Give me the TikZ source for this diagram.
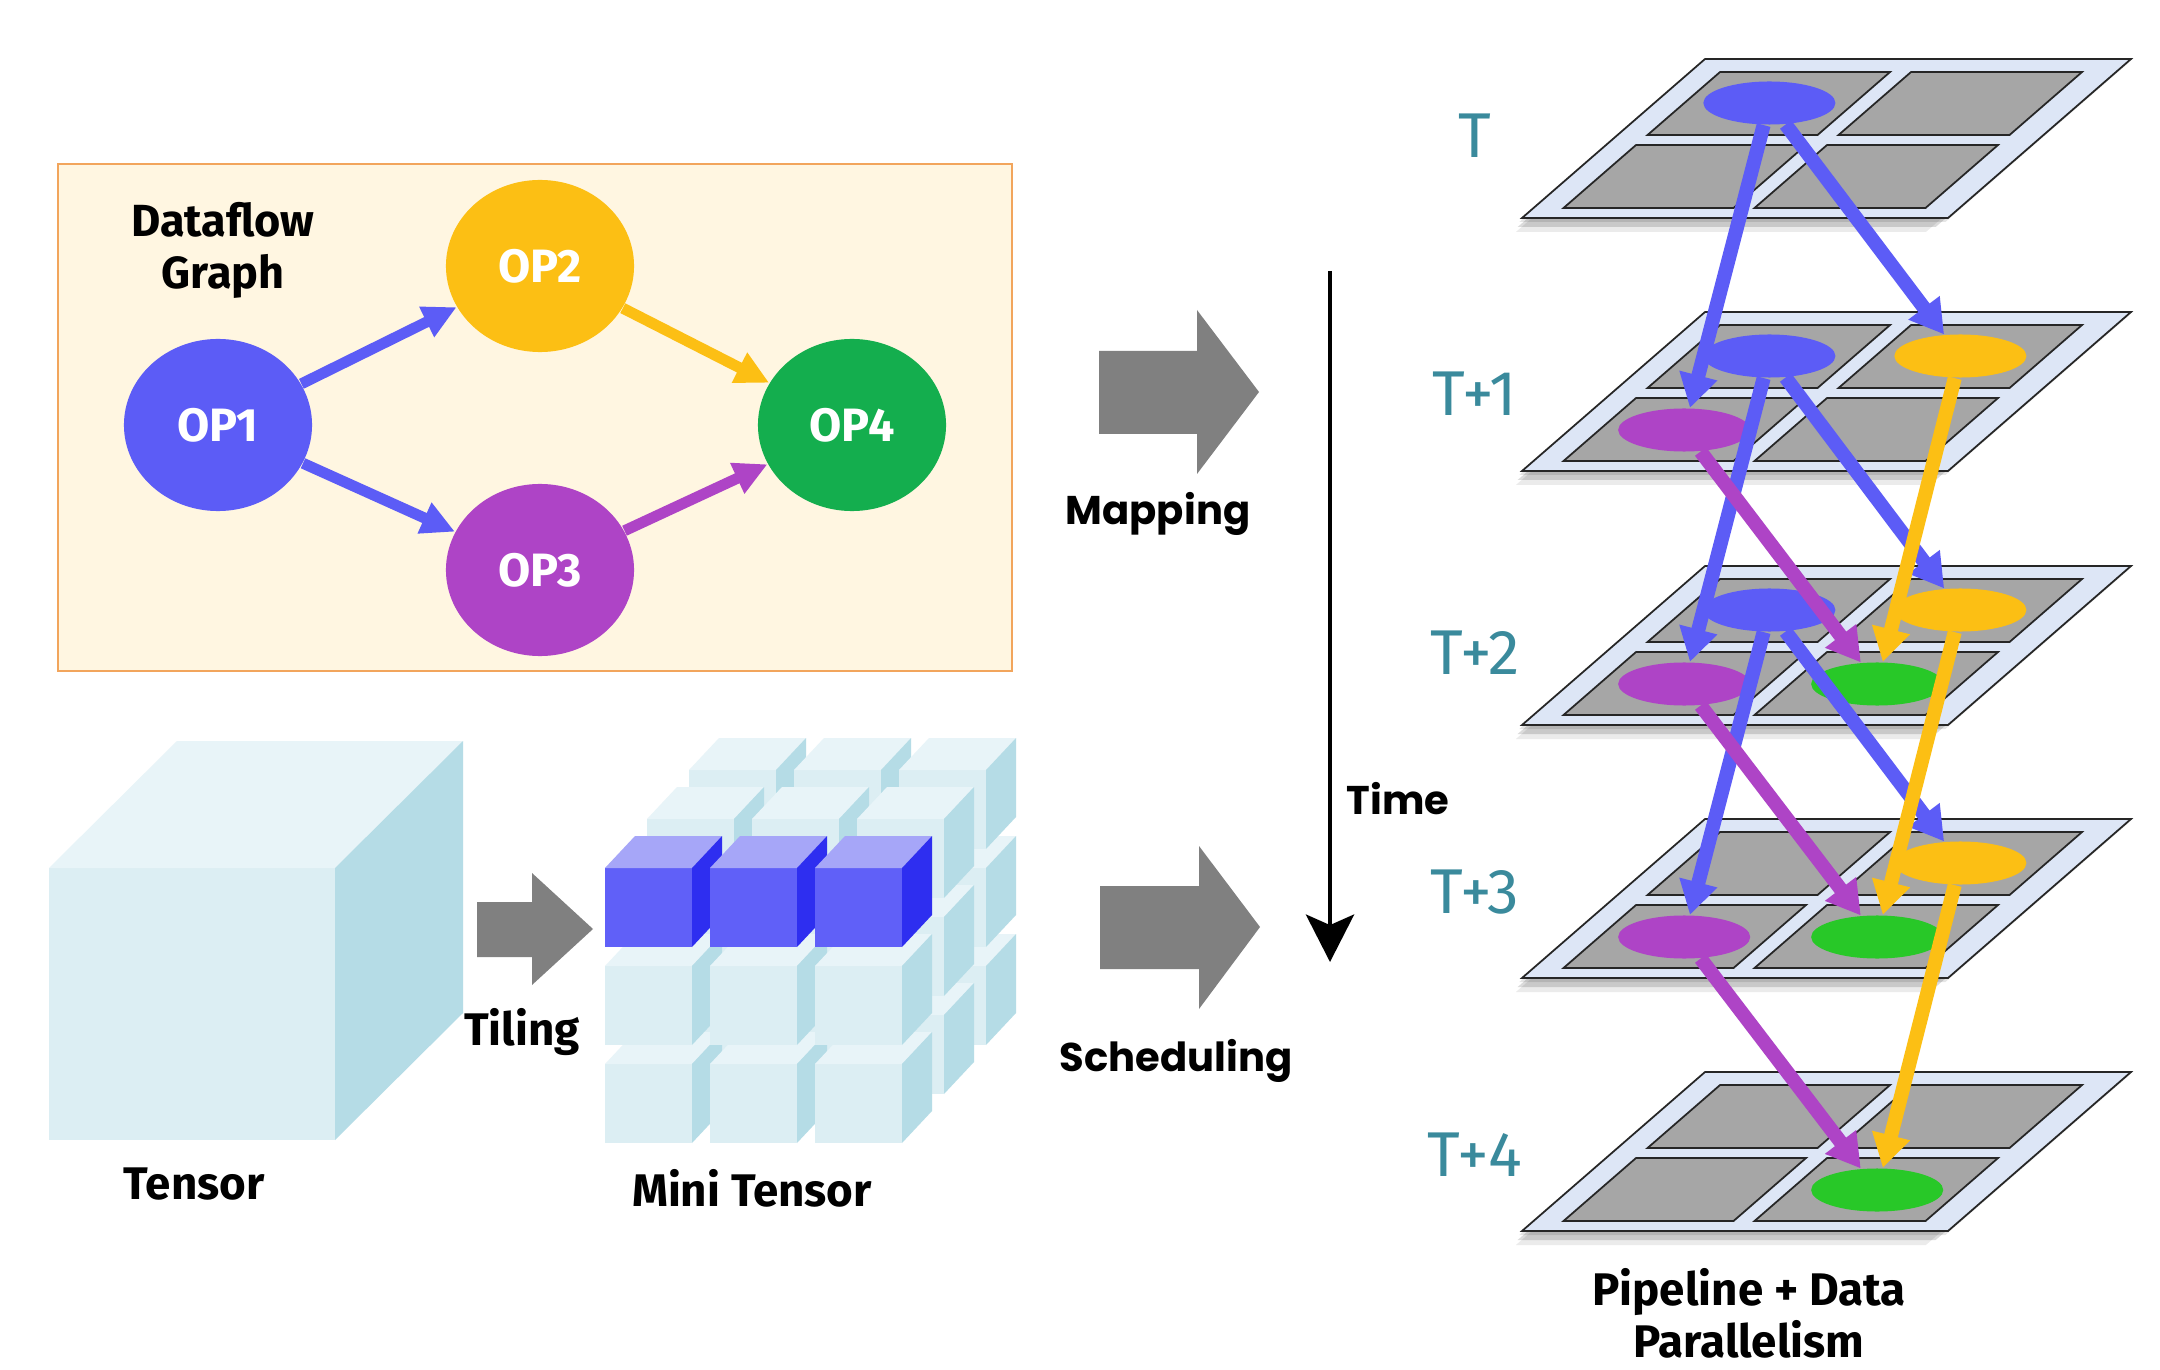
\documentclass[tikz,border=0pt]{standalone}
\usepackage{fontspec}
\setmainfont{Fira Sans}
\newfontfamily\widefont{Poppins}
\usetikzlibrary{shapes.geometric,arrows.meta}

\definecolor{opblue}{HTML}{5C5CF6}
\definecolor{opyellow}{HTML}{FCBF14}
\definecolor{oppurple}{HTML}{AE44C6}
\definecolor{opgreen}{HTML}{14AE4E}
\definecolor{cellgreen}{HTML}{28C828}
\definecolor{planefill}{HTML}{DDE6F6}
\definecolor{tilegray}{HTML}{A6A6A6}
\definecolor{boxfill}{HTML}{FFF6E1}
\definecolor{boxline}{HTML}{F2A55C}
\definecolor{arrowgray}{HTML}{808080}
\definecolor{tealtext}{HTML}{3A8A9C}
\definecolor{icefront}{HTML}{DCEEF3}
\definecolor{icetop}{HTML}{E8F4F8}
\definecolor{iceside}{HTML}{B5DCE6}
\definecolor{cubefront}{HTML}{6060F8}
\definecolor{cubetop}{HTML}{A6A6F8}
\definecolor{cubeside}{HTML}{2E2EF0}

\tikzset{
  opnode/.style={ellipse, minimum width=1.88cm, minimum height=1.72cm, inner sep=0pt,
    text=white, font=\fontsize{13.3}{15}\selectfont\bfseries},
  cell/.style={ellipse, minimum width=1.32cm, minimum height=0.43cm, inner sep=0pt},
  flow/.style={draw, line width=3.1pt, -{Triangle[width=9pt,length=9.5pt]}},
  hop/.style={draw, line width=4pt, -{Triangle[width=10.5pt,length=9.5pt]}},
  caption/.style={font=\fontsize{13}{14.8}\selectfont\bfseries, align=center},
  widecaption/.style={font=\widefont\fontsize{11.4}{14}\selectfont\bfseries},
  tlabel/.style={text=tealtext, font=\fontsize{18}{20}\selectfont},
  bigarrow/.style={fill=arrowgray},
}

% one small cube: front-top-left corner, then front, top and side colours
\newcommand{\minicube}[5]{%
  \fill[#3] (#1,#2) rectangle ++(87,79);
  \fill[#4] (#1,#2) -- ++(30,-32) -- ++(87,0) -- ++(-30,32) -- cycle;
  \fill[#5] ({#1+87},#2) -- ++(30,-32) -- ++(0,79) -- ++(-30,32) -- cycle;
}

% one time step plane: index, y of its lower edge
\newcommand{\layer}[2]{%
  \begin{scope}[shift={(1522,#2)}, xslant=1.151]
    \fill[black, opacity=.10] (2,4) rectangle (428,-155);
    \fill[black, opacity=.14] (6,9) rectangle (424,-150);
    \fill[black, opacity=.08] (10,14) rectangle (420,-140);
    \filldraw[fill=planefill, draw=black!85, line width=0.5pt] (0,0) rectangle (426,-159);
    \foreach \a/\b in {30/200,221/392}
      \foreach \c/\d in {-10/-73,-83/-146}
        \filldraw[fill=tilegray, draw=black!85, line width=0.5pt] (\a,\c) rectangle (\b,\d);
    \coordinate (L#1-tl) at (115,-115);
    \coordinate (L#1-tr) at (306,-115);
    \coordinate (L#1-bl) at (115,-41);
    \coordinate (L#1-br) at (308,-41);
  \end{scope}}

\begin{document}
\begin{tikzpicture}[x=0.01cm, y=-0.01cm]

  \fill[white] (0,0) rectangle (2160,1370);
  \useasboundingbox (0,0) rectangle (2160,1370);

  % dataflow graph
  \filldraw[fill=boxfill, draw=boxline, line width=0.7pt] (58,164) rectangle (1012,671);
  \node[caption, font=\fontsize{12.8}{14.8}\selectfont\bfseries] (dfg) at (223,250) {Dataflow\\Graph};

  \begin{scope}[every node/.style={opnode}]
    \node[fill=opblue]   (op1) at (218,425) {OP1};
    \node[fill=opyellow] (op2) at (540,266) {OP2};
    \node[fill=oppurple] (op3) at (540,570) {OP3};
    \node[fill=opgreen]  (op4) at (852,425) {OP4};
  \end{scope}

  \begin{scope}[every edge/.style={flow}]
    \path (op1) edge[opblue] (op2);
    \path (op1) edge[opblue] (op3);
    \path (op2) edge[opyellow] (op4);
    \path (op3) edge[oppurple] (op4);
  \end{scope}

  % tensor and tiling
  \fill[icefront] (49,868) rectangle (335,1140);
  \fill[icetop] (49,868) -- (177,741) -- (463,741) -- (335,868) -- cycle;
  \fill[iceside] (335,868) -- (463,741) -- (463,1013) -- (335,1140) -- cycle;
  \node[caption] (tensor) at (194,1184) {Tensor};

  \fill[bigarrow] (477,902) -- (532,902) -- (532,873) -- (593,929) -- (532,985) -- (532,957) -- (477,957) -- cycle;
  \node[caption] (tiling) at (522,1032) {Tiling};

  \foreach \l in {2,1,0}
    \foreach \r in {2,1,0}
      \foreach \c in {0,1,2} {
        \pgfmathsetmacro\cx{605+105*\c+42*\l}
        \pgfmathsetmacro\cy{868+98*\r-49*\l}
        \pgfmathtruncatemacro\hot{(\l==0)&&(\r==0)}
        \ifnum\hot=1
          \minicube{\cx}{\cy}{cubefront}{cubetop}{cubeside}
        \else
          \minicube{\cx}{\cy}{icefront}{icetop}{iceside}
        \fi
      }
  \node[caption] (mini) at (752,1188) {Mini Tensor};

  % mapping and scheduling
  \fill[bigarrow] (1099,351) -- (1197,351) -- (1197,310) -- (1259,392) -- (1197,474) -- (1197,434) -- (1099,434) -- cycle;
  \node[widecaption] (maplbl) at (1158,514) {Mapping};
  \fill[bigarrow] (1100,886) -- (1199,886) -- (1199,846) -- (1260,927) -- (1199,1009) -- (1199,969) -- (1100,969) -- cycle;
  \node[widecaption] (schedlbl) at (1176,1061) {Scheduling};

  % time axis
  \coordinate (t0) at (1330,271);
  \coordinate (t1) at (1330,962);
  \draw[line width=1.15pt, -{Stealth[width=13.7pt,length=13.5pt,inset=3pt]}] (t0) -- (t1);
  \node[widecaption] (timelbl) at (1398,799) {Time};

  % time steps
  \layer{0}{218}
  \layer{1}{471}
  \layer{2}{725}
  \layer{3}{978}
  \layer{4}{1231}

  \node[tlabel] (s0) at (1475,136) {T};
  \node[tlabel] (s1) at (1475,394) {T+1};
  \node[tlabel] (s2) at (1475,653) {T+2};
  \node[tlabel] (s3) at (1475,892) {T+3};
  \node[tlabel] (s4) at (1475,1155) {T+4};

  \begin{scope}[every node/.style={cell}]
    \node[fill=opblue] (p0b) at (L0-tl) {};
    \node[fill=opblue] (p1b) at (L1-tl) {};
    \node[fill=opyellow] (p1y) at (L1-tr) {};
    \node[fill=oppurple] (p1p) at (L1-bl) {};
    \node[fill=opblue] (p2b) at (L2-tl) {};
    \node[fill=opyellow] (p2y) at (L2-tr) {};
    \node[fill=oppurple] (p2p) at (L2-bl) {};
    \node[fill=cellgreen] (p2g) at (L2-br) {};
    \node[fill=opyellow] (p3y) at (L3-tr) {};
    \node[fill=oppurple] (p3p) at (L3-bl) {};
    \node[fill=cellgreen] (p3g) at (L3-br) {};
    \node[fill=cellgreen] (p4g) at (L4-br) {};
  \end{scope}

  \begin{scope}[every edge/.style={hop}]
    \path (p0b) edge[opblue] (p1p);
    \path (p0b) edge[opblue] (p1y);
    \path (p1b) edge[opblue] (p2p);
    \path (p1b) edge[opblue] (p2y);
    \path (p1p) edge[oppurple] (p2g);
    \path (p1y) edge[opyellow] (p2g);
    \path (p2b) edge[opblue] (p3p);
    \path (p2b) edge[opblue] (p3y);
    \path (p2p) edge[oppurple] (p3g);
    \path (p2y) edge[opyellow] (p3g);
    \path (p3p) edge[oppurple] (p4g);
    \path (p3y) edge[opyellow] (p4g);
  \end{scope}

  \node[caption] (pdp) at (1749,1313) {Pipeline + Data\\Parallelism};

\end{tikzpicture}
\end{document}
